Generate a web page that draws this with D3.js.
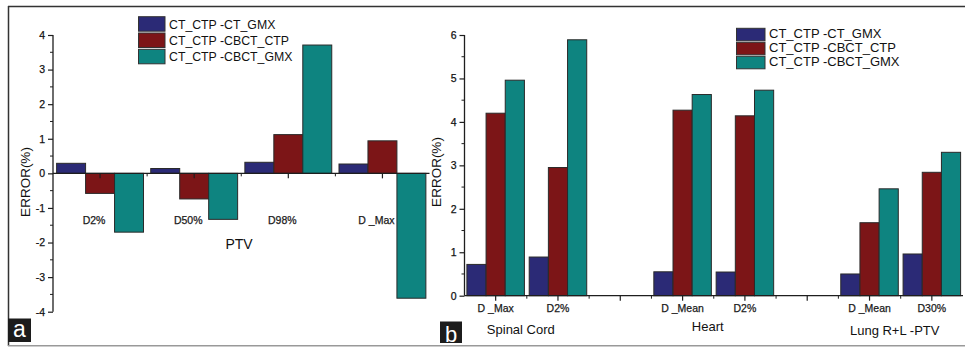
<!DOCTYPE html>
<html><head><meta charset="utf-8">
<script src="https://cdn.jsdelivr.net/npm/d3@7"></script>
<style>
html,body{margin:0;padding:0;background:#fff;}
svg{display:block;font-family:"Liberation Sans",Arial,sans-serif;}
</style></head>
<body><svg id="c" width="965" height="347"></svg>
<script>
// ---------- DATA ----------
const seriesNames = ["CT_CTP -CT_GMX", "CT_CTP -CBCT_CTP", "CT_CTP -CBCT_GMX"];
const seriesColors = ["#2b2a76", "#7c1517", "#0e8480"];

// Panel a (PTV)
const catsA = ["D2%", "D50%", "D98%", "D _Max"];
const aCtGmx   = [0.29, 0.14, 0.32, 0.27];
const aCbctCtp = [-0.58, -0.74, 1.12, 0.94];
const aCbctGmx = [-1.70, -1.33, 3.71, -3.61];
const yTicksA = [-4, -3, -2, -1, 0, 1, 2, 3, 4];

// Panel b (organs) — empty strings are the gaps between organ groups
const catsB = ["D _Max", "D2%", "", "D _Mean", "D2%", "", "D _Mean", "D30%"];
const bCtGmx   = [0.72, 0.89, null, 0.55, 0.545, null, 0.50, 0.96];
const bCbctCtp = [4.20, 2.95, null, 4.27, 4.14, null, 1.68, 2.84];
const bCbctGmx = [4.96, 5.89, null, 4.63, 4.73, null, 2.46, 3.30];
const groupsB = ["Spinal Cord", "Heart", "Lung R+L -PTV"];
const yTicksB = [0, 1, 2, 3, 4, 5, 6];

// ---------- DRAW ----------
const svg = d3.select("#c");
const ink = "#1e1e1e";

// outer frame
svg.append("line").attr("x1",8).attr("x2",965).attr("y1",6.5).attr("y2",6.5).attr("stroke","#333").attr("stroke-width",1.5);
svg.append("line").attr("x1",8.5).attr("x2",8.5).attr("y1",6).attr("y2",346).attr("stroke","#333").attr("stroke-width",1.5);
svg.append("line").attr("x1",8).attr("x2",965).attr("y1",345.8).attr("y2",345.8).attr("stroke","#999").attr("stroke-width",1.5);

function panel(opt){
  const g = svg.append("g");
  const x = d3.scaleBand().domain(d3.range(opt.cats.length)).range([opt.x0, opt.x1]).paddingInner(0).paddingOuter(0);
  const inner = d3.scaleBand().domain(d3.range(3)).range([0, x.bandwidth()]).paddingOuter(0.125).paddingInner(0);
  const y = d3.scaleLinear().domain(opt.yDomain).range([opt.yBottom, opt.yTop]);
  const y0 = y(0);

  // bars
  opt.series.forEach((vals, si) => {
    g.append("g").selectAll("rect").data(vals.map((v,i)=>({v,i})).filter(d=>d.v!==null))
      .join("rect")
      .attr("x", d => x(d.i) + inner(si))
      .attr("width", inner.bandwidth())
      .attr("y", d => Math.min(y(d.v), y0))
      .attr("height", d => Math.abs(y(d.v) - y0))
      .attr("fill", seriesColors[si])
      .attr("stroke", "#2a2a2a").attr("stroke-width", 1);
  });

  // y axis
  const yAxis = d3.axisLeft(y).tickValues(opt.yTicks).tickSize(5).tickPadding(3).tickFormat(d => String(d));
  const ya = g.append("g").attr("transform",`translate(${opt.x0},0)`).call(yAxis);
  ya.select(".domain").attr("d", `M0,${opt.yTop}V${opt.yBottom}`).attr("stroke", ink).attr("stroke-width",1.3);
  ya.selectAll(".tick line").attr("stroke", ink).attr("stroke-width",1.2);
  ya.selectAll(".tick text").attr("font-size", 10.5).attr("fill", "#111").attr("font-family","Liberation Sans, Arial")
    .attr("stroke","#111").attr("stroke-width",0.25);
  // minor y ticks
  const minors = [];
  for (let i=0;i<opt.yTicks.length-1;i++) minors.push((opt.yTicks[i]+opt.yTicks[i+1])/2);
  g.append("g").selectAll("line").data(minors).join("line")
    .attr("x1", opt.x0-3).attr("x2", opt.x0).attr("y1", d=>y(d)).attr("y2", d=>y(d))
    .attr("stroke", ink).attr("stroke-width",1);

  // x axis (zero line)
  g.append("line").attr("x1", opt.x0).attr("x2", opt.x1).attr("y1", y0).attr("y2", y0).attr("stroke", ink).attr("stroke-width",1.3);
  // major ticks at category centres
  g.append("g").selectAll("line").data(d3.range(opt.cats.length)).join("line")
    .attr("x1", d=>x(d)+x.bandwidth()/2).attr("x2", d=>x(d)+x.bandwidth()/2)
    .attr("y1", y0).attr("y2", y0+5).attr("stroke", ink).attr("stroke-width",1.2);
  // minor ticks at band edges
  g.append("g").selectAll("line").data(d3.range(1, opt.cats.length)).join("line")
    .attr("x1", d=>x(d)).attr("x2", d=>x(d))
    .attr("y1", y0).attr("y2", y0+3).attr("stroke", ink).attr("stroke-width",1);

  // category labels
  g.append("g").selectAll("text").data(opt.cats.map((c,i)=>({c,i})).filter(d=>d.c!==""))
    .join("text")
    .attr("x", d=>x(d.i)+x.bandwidth()/2 + opt.catDx)
    .attr("y", opt.catY)
    .attr("text-anchor","middle").attr("font-size", 10.5).attr("fill","#1a1a1a")
    .attr("stroke","#1a1a1a").attr("stroke-width",0.25)
    .text(d=>d.c);

  // legend
  const lg = g.append("g");
  seriesNames.forEach((n,i)=>{
    lg.append("rect").attr("x", opt.leg.x).attr("y", opt.leg.y + i*opt.leg.dy)
      .attr("width", opt.leg.w).attr("height", opt.leg.h)
      .attr("fill", seriesColors[i]).attr("stroke","#333").attr("stroke-width",1);
    lg.append("text").attr("x", opt.leg.x + opt.leg.w + 4).attr("y", opt.leg.y + i*opt.leg.dy + opt.leg.h - 2.5)
      .attr("font-size", opt.leg.fs).attr("fill","#111").text(n);
  });
  return {x, y, g};
}

// Panel a
const pa = panel({
  cats: catsA, series: [aCtGmx, aCbctCtp, aCbctGmx],
  x0: 53, x1: 429.5, yTop: 35, yBottom: 311.7, yDomain: [-4, 4], yTicks: yTicksA,
  catDx: -6, catY: 224,
  leg: {x: 138.5, y: 16.7, dy: 16.3, w: 26.5, h: 14.5, fs: 12.3}
});
svg.append("text").attr("x", 239).attr("y", 248.5).attr("text-anchor","middle").attr("font-size",14).attr("fill","#111").text("PTV");
svg.append("text").attr("transform","translate(30,182) rotate(-90)").attr("text-anchor","middle").attr("font-size",13.5).attr("fill","#111").text("ERROR(%)");

// Panel b
const pb = panel({
  cats: catsB, series: [bCtGmx, bCbctCtp, bCbctGmx],
  x0: 464.5, x1: 963, yTop: 35, yBottom: 295.7, yDomain: [0, 6], yTicks: yTicksB,
  catDx: 0, catY: 311.5,
  leg: {x: 736.5, y: 28.3, dy: 14, w: 28.5, h: 12.5, fs: 13}
});
svg.append("text").attr("transform","translate(441,172) rotate(-90)").attr("text-anchor","middle").attr("font-size",13.5).attr("fill","#111").text("ERROR(%)");
const groupYs = [334, 331, 335];
groupsB.forEach((gname, gi)=>{
  const i0 = gi*3, i1 = gi*3+1;
  const cx = (pb.x(i0) + pb.x(i1) + pb.x.bandwidth())/2 - 6;
  svg.append("text").attr("x", cx).attr("y", groupYs[gi]).attr("text-anchor","middle").attr("font-size",13).attr("fill","#111").text(gname);
});

// panel letters
svg.append("rect").attr("x",8).attr("y",318.5).attr("width",23).attr("height",23.5).attr("fill","#1c1c1c");
svg.append("text").attr("x",19.5).attr("y",337).attr("text-anchor","middle").attr("font-size",23).attr("fill","#fff").text("a");
svg.append("rect").attr("x",440).attr("y",321.5).attr("width",22).attr("height",21.5).attr("fill","#1c1c1c");
svg.append("text").attr("x",451).attr("y",341.5).attr("text-anchor","middle").attr("font-size",22).attr("fill","#fff").text("b");
</script></body></html>
